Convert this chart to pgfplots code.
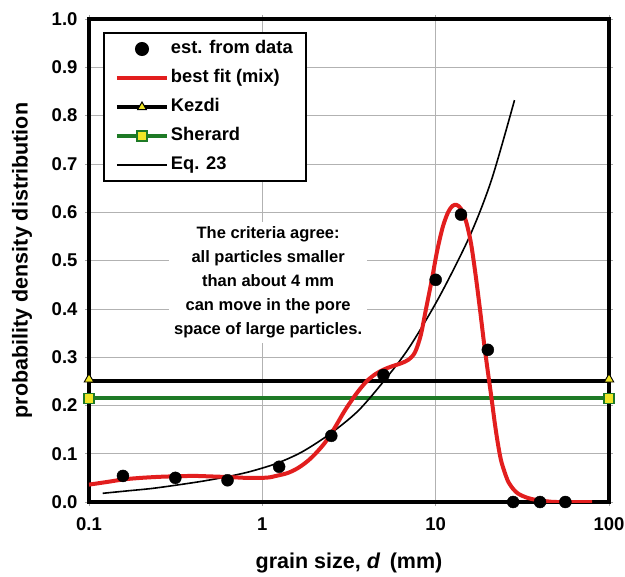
\documentclass[border=0pt]{standalone}
\usepackage{pgfplots}
\pgfplotsset{compat=1.18}
\usepackage{fontspec}
\setmainfont{Liberation Sans}
\definecolor{fitred}{RGB}{226,30,30}
\definecolor{shgreen}{RGB}{30,122,38}
\definecolor{mkyellow}{RGB}{240,230,40}
\begin{document}
\begin{tikzpicture}
\begin{axis}[
  scale only axis, width=520pt, height=483pt,
  xmode=log, xmin=0.1, xmax=100, ymin=0, ymax=1,
  log basis x=10,
  xtick={0.1,1,10,100}, xticklabels={0.1,1,10,100},
  ytick={0,0.1,...,1.0},
  /pgf/number format/assume math mode=true,
  yticklabel style={/pgf/number format/fixed, /pgf/number format/fixed zerofill, /pgf/number format/precision=1},
  tick label style={font=\bfseries\fontsize{18.5}{20}\selectfont},
  xticklabel style={yshift=-8pt},
  yticklabel style={xshift=-4pt},
  grid=both,
  major grid style={gray!60, line width=0.6pt},
  minor grid style={gray!60, line width=0.6pt},
  tick align=outside, major tick length=4pt, minor tick length=0pt,
  tick style={gray!70, line width=0.6pt},
  axis line style={black, line width=4.5pt},
  clip mode=individual,
  xlabel={grain size, \textit{d}\, (mm)},
  ylabel={probability density distribution},
  every axis x label/.style={at={(rel axis cs:0.5,0)}, anchor=base, yshift=-66pt, font=\bfseries\fontsize{21.5}{24}\selectfont},
  every axis y label/.style={at={(rel axis cs:0,0.5)}, xshift=-67pt, anchor=center, rotate=90, font=\bfseries\fontsize{21.5}{24}\selectfont},
  legend cell align=left,
  legend style={at={(rel axis cs:0,1)}, anchor=north west, xshift=14pt, yshift=-13pt,
    draw=black, line width=2pt, fill=white, font=\bfseries\fontsize{18.3}{20}\selectfont,
    nodes={inner sep=2pt, text height=12.5pt, text depth=3.5pt},
    row sep=9pt, inner xsep=11pt, inner ysep=6pt},
  legend image code/.code={\draw[mark repeat=2,mark phase=2,#1] plot coordinates {(0pt,0pt) (25pt,0pt) (50pt,0pt)};},
]
% legend entries
\addlegendimage{only marks, mark=*, mark size=6pt, black, legend image code/.code={\draw[mark repeat=2,mark phase=2,##1] plot coordinates {(0pt,0pt) (25pt,0pt) (50pt,0pt)};}}
\addlegendentry{est. from data}
\addlegendimage{fitred, line width=4pt, no marks}
\addlegendentry{best fit (mix)}
\addlegendimage{black, line width=4pt, mark=triangle*, mark size=5pt, mark options={fill=mkyellow, draw=black, line width=1pt}}
\addlegendentry{Kezdi}
\addlegendimage{shgreen, line width=4pt, mark=square*, mark size=5pt, mark options={fill=mkyellow, draw=shgreen, line width=1.2pt}}
\addlegendentry{Sherard}
\addlegendimage{black, line width=1.6pt, no marks}
\addlegendentry{Eq. 23}

% Kezdi
\addplot[forget plot, black, line width=4pt, mark=triangle*, mark size=5.5pt, mark options={fill=mkyellow, draw=black, line width=0.9pt, yshift=2pt}]
  coordinates {(0.1,0.25) (100,0.25)};
% Sherard
\addplot[forget plot, shgreen, line width=4pt, mark=square*, mark size=5pt, mark options={fill=mkyellow, draw=shgreen, line width=1.2pt}]
  coordinates {(0.1,0.215) (100,0.215)};
% Eq. 23
\addplot[forget plot, black, line width=1.6pt, smooth] coordinates {
(0.12,0.018) (0.166,0.023) (0.23,0.028) (0.32,0.035) (0.45,0.043) (0.62,0.052) (0.85,0.063)
(1.21,0.080) (1.7,0.104) (2.5,0.143) (3.6,0.19) (5.2,0.257) (7.1,0.322) (10.5,0.425)
(15.7,0.55) (21,0.667) (28.5,0.832)};
% best fit
\addplot[forget plot, fitred, line width=4pt, smooth] coordinates {
(0.1,0.036) (0.13,0.042) (0.16,0.047) (0.2,0.050) (0.25,0.052) (0.3,0.053) (0.4,0.054)
(0.5,0.053) (0.6,0.052) (0.7,0.051) (0.8,0.050) (0.9,0.050) (1.0,0.050) (1.1,0.051)
(1.2,0.054) (1.4,0.060) (1.6,0.070) (1.8,0.083) (2.0,0.098) (2.3,0.123) (2.6,0.152)
(3.0,0.19) (3.5,0.225) (4.0,0.25) (4.5,0.265) (5.0,0.274) (5.6,0.281) (6.3,0.287)
(7.0,0.295) (7.6,0.31) (8.2,0.345) (8.8,0.40) (9.5,0.46) (10.2,0.52) (11,0.57)
(11.8,0.60) (12.5,0.613) (13.2,0.615) (14,0.607) (15,0.58) (16,0.535) (17,0.47)
(18,0.40) (19,0.33) (20,0.27) (21,0.215) (22,0.16) (23,0.115) (24,0.082) (26,0.045)
(28,0.027) (30,0.017) (33,0.010) (36,0.006) (40,0.003) (45,0.001) (50,0) (80,0)};
% data
\addplot[forget plot, only marks, mark=*, mark size=6pt, black] coordinates {
(0.157,0.054) (0.315,0.050) (0.63,0.045) (1.25,0.073) (2.5,0.137) (5.0,0.263)
(10,0.46) (14,0.595) (20,0.315) (28,0) (40,0) (56,0)};

\node[fill=white, align=center, inner sep=5pt, font=\bfseries\fontsize{16.5}{24}\selectfont]
  at (axis cs:1.08,0.455) {The criteria agree:\\all particles smaller\\than about 4 mm\\can move in the pore\\space of large particles.};

\coordinate (sw) at (rel axis cs:0,0);
\coordinate (ne) at (rel axis cs:1,1);
\end{axis}
\pgfresetboundingbox
\path[use as bounding box] ([shift={(-89pt,-74pt)}]sw) rectangle ([shift={(16pt,19pt)}]ne);
\end{tikzpicture}
\end{document}
